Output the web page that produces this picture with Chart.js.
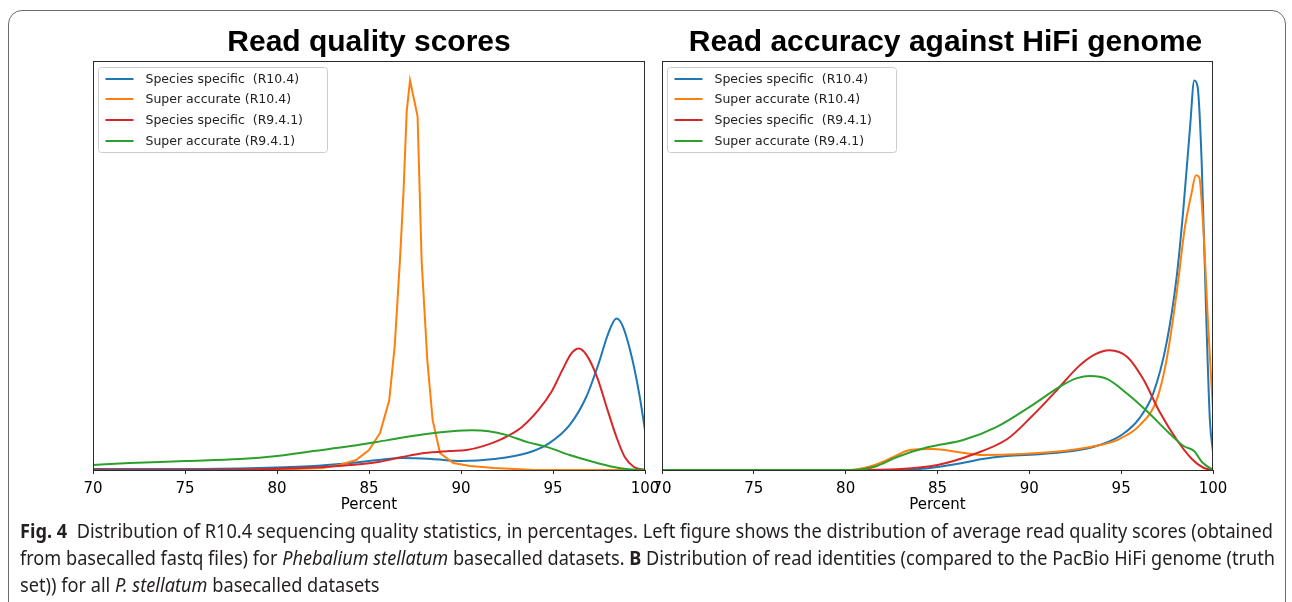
<!doctype html>
<html lang="en">
<head>
    <meta charset="utf-8">
    <title>Fig. 4 read quality</title>
    <script src="https://cdn.jsdelivr.net/npm/chart.js@4.4.1/dist/chart.umd.min.js"></script>
</head>
<style>
    body{
        margin: 0;
        background: #fff;
        width: 1292px;
        height: 602px;
        overflow: hidden;
        position: relative;
    }
    #frame{
        position: absolute;
        left: 8px;
        top: 10px;
        width: 1276px;
        height: 700px;
        border: 1px solid #6b6b6b;
        border-radius: 14px;
    }
    canvas{
        position: absolute;
        top: 0;
    }
    #caption{
        position: absolute;
        left: 20px;
        top: 517px;
        font-family: 'Liberation Sans Narrow', 'Noto Sans', sans-serif;
        font-size: 20px;
        line-height: 27px;
        color: #231f20;
    }
    #caption span{
        display: block;
        width: max-content;
        white-space: nowrap;
        transform-origin: 0 50%;
    }
</style>
<body>
    <div id="frame"></div>
    <canvas id="qualityChart" width="660" height="520" style="left:0px"></canvas>
    <canvas id="accuracyChart" width="712" height="520" style="left:580px"></canvas>
    <div id="caption">
        <span><b>Fig. 4</b>&nbsp; Distribution of R10.4 sequencing quality statistics, in percentages. Left figure shows the distribution of average read quality scores (obtained</span>
        <span>from basecalled fastq files) for <i>Phebalium stellatum</i> basecalled datasets. <b>B</b> Distribution of read identities (compared to the PacBio HiFi genome (truth</span>
        <span>set)) for all <i>P. stellatum</i> basecalled datasets</span>
    </div>

  <script>
        // series labels and colours (matplotlib tab10)
        const seriesLabels = ["Species specific  (R10.4)", "Super accurate (R10.4)", "Species specific  (R9.4.1)", "Super accurate (R9.4.1)"];
        const seriesColors = ["#1f77b4", "#ff7f0e", "#d62728", "#2ca02c"];
        const xTicks = [70, 75, 80, 85, 90, 95, 100];

        // left panel: read quality scores (density)
        const qualBlueX = [70, 75, 79, 82, 84, 85.5, 86.8, 88.4, 90, 91.8, 93.6, 94.8, 95.9, 96.8, 97.5, 98.0, 98.45, 98.8, 99.3, 99.7, 100];
        const qualBlueY = [0.001, 0.001, 0.002, 0.004, 0.007, 0.010, 0.012, 0.011, 0.009, 0.011, 0.017, 0.027, 0.045, 0.073, 0.108, 0.137, 0.152, 0.144, 0.112, 0.075, 0.040];

        const qualOrangeX = [70, 78, 81, 82.5, 83.4, 84.3, 85.0, 85.6, 86.1, 86.4, 86.68, 86.87, 87.05, 87.23, 87.64, 87.86, 88.17, 88.46, 88.86, 89.58, 90.5, 91.8, 94, 100];
        const qualOrangeY = [0, 0, 0.001, 0.002, 0.005, 0.010, 0.020, 0.037, 0.070, 0.125, 0.210, 0.277, 0.360, 0.391, 0.355, 0.210, 0.110, 0.050, 0.017, 0.007, 0.004, 0.002, 0, 0];

        const qualRedX = [70, 76, 81.3, 84, 85.5, 86.8, 88, 89.4, 90.3, 91.2, 92.2, 93.3, 94.2, 94.9, 95.5, 96.0, 96.4, 96.8, 97.4, 97.9, 98.45, 98.9, 99.4, 100];
        const qualRedY = [0, 0, 0.002, 0.005, 0.008, 0.013, 0.017, 0.019, 0.020, 0.024, 0.031, 0.043, 0.060, 0.078, 0.100, 0.117, 0.122, 0.116, 0.093, 0.064, 0.033, 0.013, 0.003, 0];

        const qualGreenX = [70, 72, 75, 78, 80, 82, 84, 86, 88, 89.5, 90.6, 91.5, 92.5, 93.6, 94.7, 95.9, 97.2, 98.3, 99.0, 100];
        const qualGreenY = [0.005, 0.007, 0.009, 0.011, 0.014, 0.019, 0.024, 0.030, 0.036, 0.039, 0.040, 0.039, 0.035, 0.028, 0.023, 0.015, 0.008, 0.003, 0.001, 0];

        // right panel: read accuracy against HiFi genome
        const accBlueX = [70, 80, 83, 84, 85, 86.35, 87.45, 88.77, 90.7, 92.7, 94.0, 95.1, 96.0, 96.75, 97.47, 98.02, 98.38, 98.75, 98.98, 99.16, 99.38, 99.65, 99.83, 100];
        const accBlueY = [0, 0, 0, 0.001, 0.003, 0.007, 0.011, 0.014, 0.016, 0.020, 0.026, 0.036, 0.052, 0.077, 0.127, 0.193, 0.260, 0.343, 0.390, 0.384, 0.310, 0.143, 0.050, 0.018];

        const accOrangeX = [70, 80.2, 81.0, 81.74, 82.6, 83.5, 84.8, 86.1, 87.45, 89.6, 91.85, 93.6, 94.9, 96.02, 96.93, 97.47, 98.02, 98.47, 98.83, 99.07, 99.25, 99.47, 99.74, 100];
        const accOrangeY = [0, 0, 0.002, 0.006, 0.013, 0.020, 0.021, 0.018, 0.015, 0.016, 0.019, 0.024, 0.031, 0.045, 0.070, 0.110, 0.177, 0.243, 0.277, 0.295, 0.293, 0.243, 0.143, 0.060];

        const accRedX = [70, 80, 83, 85, 87, 88.8, 90.1, 91.4, 92.7, 93.6, 94.35, 95.35, 96.2, 97.1, 98.0, 98.85, 99.5, 100];
        const accRedY = [0, 0, 0.001, 0.005, 0.016, 0.031, 0.053, 0.078, 0.104, 0.116, 0.120, 0.113, 0.091, 0.058, 0.031, 0.011, 0.002, 0];

        const accGreenX = [70, 80.4, 81.0, 81.7, 82.8, 84.5, 86.4, 88.2, 90.0, 91.8, 92.6, 93.3, 94.25, 95.35, 96.45, 97.55, 98.4, 98.97, 99.4, 100];
        const accGreenY = [0, 0, 0.001, 0.004, 0.013, 0.023, 0.030, 0.043, 0.063, 0.085, 0.092, 0.094, 0.091, 0.076, 0.058, 0.038, 0.024, 0.019, 0.008, 0];

        let toPoints = (xs, ys) => xs.map((x, i) => ({x: x, y: ys[i]}));

        // matplotlib style frame around the axes
        const axesFrame = {
            id: 'axesFrame',
            afterDatasetsDraw(chart){
                const {ctx, chartArea} = chart;
                ctx.save();
                ctx.strokeStyle = "#2b2b2b";
                ctx.lineWidth = 1;
                ctx.strokeRect(chartArea.left + 0.5, chartArea.top + 0.5, chartArea.width - 1, chartArea.height);
                ctx.restore();
            }
        };

        // legend box in the upper left corner of the axes
        const boxLegend = {
            id: 'boxLegend',
            afterDraw(chart){
                const {ctx, chartArea} = chart;
                const x = chartArea.left + 5.5, y = chartArea.top + 6.5, w = 229, h = 85;
                ctx.save();
                ctx.beginPath();
                ctx.roundRect(x, y, w, h, 3);
                ctx.fillStyle = "rgba(255,255,255,0.8)";
                ctx.fill();
                ctx.strokeStyle = "#cccccc";
                ctx.lineWidth = 1;
                ctx.stroke();
                ctx.font = "12.5px 'DejaVu Sans'";
                ctx.textBaseline = "middle";
                chart.data.datasets.forEach((ds, i) => {
                    const cy = Math.round(y + 11 + i * 20.7);
                    ctx.strokeStyle = ds.borderColor;
                    ctx.lineWidth = 2;
                    ctx.beginPath();
                    ctx.moveTo(x + 7, cy);
                    ctx.lineTo(x + 35, cy);
                    ctx.stroke();
                    ctx.fillStyle = "#222";
                    ctx.fillText(ds.label, x + 47, cy + 1);
                });
                ctx.restore();
            }
        };

        // sharp = series index drawn with straight segments, gutter = blank width right of the axes
        let makeChart = (canvasId, title, series, pad, sharp, gutter) => {
            const peak = Math.max(...series.map(s => Math.max(...s[1])));
            const datasets = series.map((s, i) => ({
                label: seriesLabels[i],
                data: toPoints(s[0], s[1]),
                borderColor: seriesColors[i],
                borderWidth: 2,
                pointRadius: 0,
                cubicInterpolationMode: i === sharp ? 'default' : 'monotone',
                tension: 0,
                order: 3 - i
            }));
            return new Chart(document.getElementById(canvasId), {
                type: 'line',
                data: {datasets: datasets},
                plugins: [axesFrame, boxLegend],
                options: {
                    responsive: false,
                    animation: false,
                    layout: {padding: pad},
                    plugins: {
                        legend: {display: false},
                        tooltip: {enabled: false},
                        title: {
                            display: true,
                            text: title,
                            color: "#000",
                            font: {family: "'Liberation Sans', Arial, sans-serif", size: 30, weight: 'bold'},
                            padding: {top: 0, bottom: 0}
                        }
                    },
                    scales: {
                        x: {
                            type: 'linear',
                            min: 70,
                            max: 100,
                            afterFit: (scale) => {
                                scale.height = 50;
                                scale.paddingLeft = 0;
                                scale.paddingRight = 0;
                            },
                            afterBuildTicks: (scale) => { scale.ticks = xTicks.map(v => ({value: v})); },
                            border: {display: false},
                            grid: {display: true, drawOnChartArea: false, drawTicks: true, tickLength: 4, color: "#2b2b2b"},
                            ticks: {
                                color: "#000",
                                font: {family: "'DejaVu Sans'", size: 15},
                                padding: 6,
                                maxRotation: 0,
                                autoSkip: false
                            },
                            title: {
                                display: true,
                                text: "Percent",
                                color: "#000",
                                font: {family: "'DejaVu Sans'", size: 15},
                                padding: {top: 0, bottom: 6}
                            }
                        },
                        y: {
                            display: gutter > 0,
                            position: 'right',
                            min: 0,
                            max: peak * 1.05,
                            afterFit: (scale) => { scale.width = gutter; },
                            border: {display: false},
                            grid: {display: false},
                            ticks: {display: false}
                        }
                    }
                }
            });
        };

        makeChart("qualityChart", "Read quality scores",
            [[qualBlueX, qualBlueY], [qualOrangeX, qualOrangeY], [qualRedX, qualRedY], [qualGreenX, qualGreenY]],
            {left: 93, right: 15, top: 25, bottom: 0}, 1, 0);

        makeChart("accuracyChart", "Read accuracy against HiFi genome",
            [[accBlueX, accBlueY], [accOrangeX, accOrangeY], [accRedX, accRedY], [accGreenX, accGreenY]],
            {left: 82, right: 63, top: 25, bottom: 0}, -1, 16);

        // squeeze caption lines to the widths they have in the figure
        let lines = document.querySelectorAll("#caption span");
        let targets = [1253, 1255];
        let s1 = targets[0] / lines[0].getBoundingClientRect().width;
        let s2 = targets[1] / lines[1].getBoundingClientRect().width;
        lines[0].style.transform = "scaleX(" + s1 + ")";
        lines[1].style.transform = "scaleX(" + s2 + ")";
        lines[2].style.transform = "scaleX(" + s1 + ")";
  </script>
</body>
</html>
